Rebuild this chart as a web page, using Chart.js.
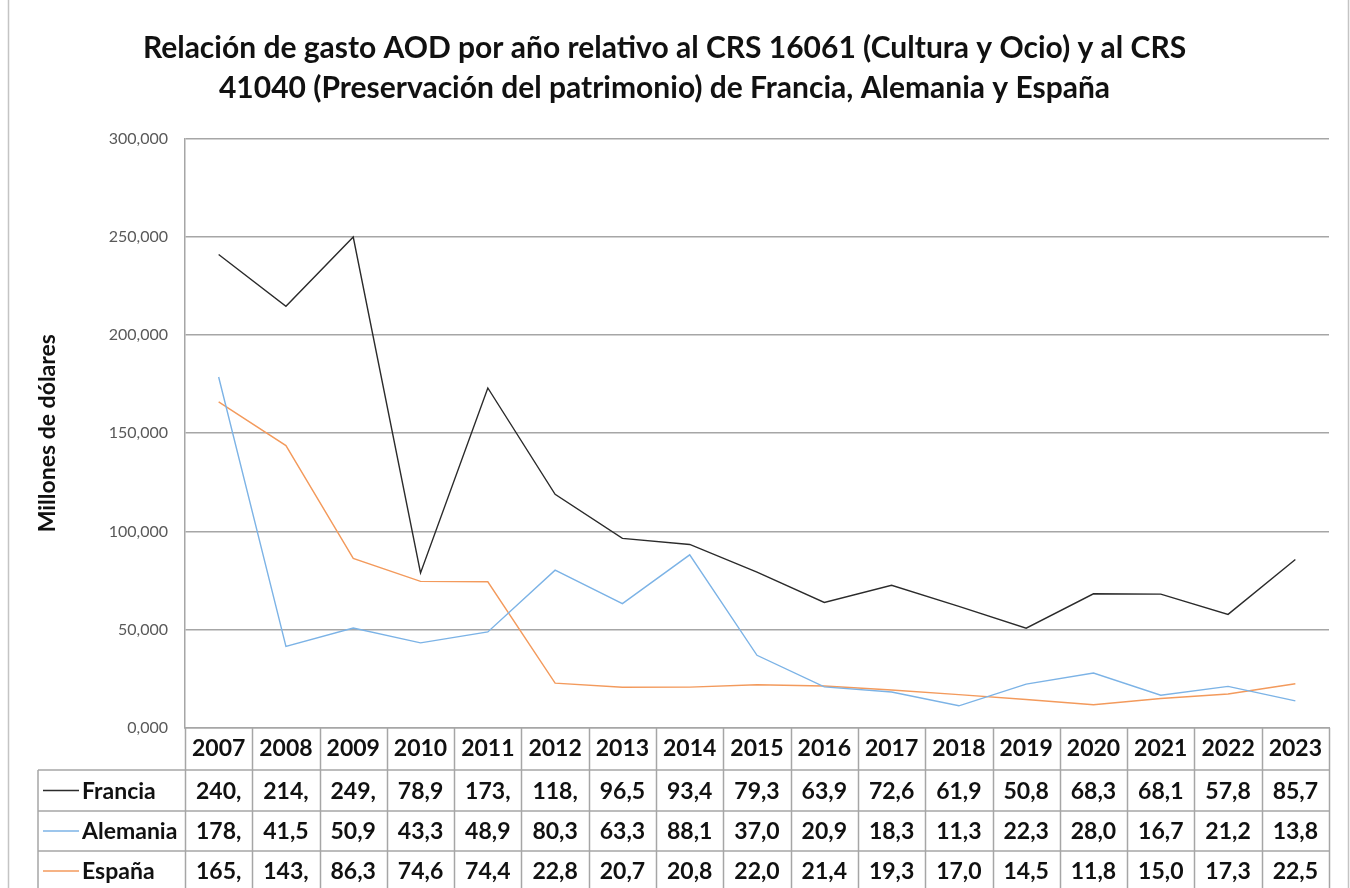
<!DOCTYPE html>
<html>
<head>
<meta charset="utf-8">
<script src="https://cdn.jsdelivr.net/npm/chart.js@4.4.1/dist/chart.umd.min.js"></script>
<style>
  html, body { margin: 0; padding: 0; background: #fff; }
  canvas { display: block; }
</style>
</head>
<body>
<canvas id="gastoChart" width="1350" height="888"></canvas>
<script>
// --- Datos (millones de dólares) ---
const years = ['2007', '2008', '2009', '2010', '2011', '2012', '2013', '2014', '2015',
               '2016', '2017', '2018', '2019', '2020', '2021', '2022', '2023'];
const francia  = [240.9, 214.6, 249.8, 78.9, 173.0, 118.9, 96.5, 93.4, 79.3, 63.9, 72.6, 61.9, 50.8, 68.3, 68.1, 57.8, 85.7];
const alemania = [178.6, 41.5, 50.9, 43.3, 48.9, 80.3, 63.3, 88.1, 37.0, 20.9, 18.3, 11.3, 22.3, 28.0, 16.7, 21.2, 13.8];
const espana   = [165.9, 143.7, 86.3, 74.6, 74.4, 22.8, 20.7, 20.8, 22.0, 21.4, 19.3, 17.0, 14.5, 11.8, 15.0, 17.3, 22.5];
const seriesNames = ['Francia', 'Alemania', 'España'];
const seriesColors = ['#2b2b2b', '#7cb3e6', '#f39a5c'];
const yMin = 0, yMax = 300, yStep = 50;

const titleLines = [
    'Relación de gasto AOD por año relativo al CRS 16061 (Cultura y Ocio) y al CRS',
    '41040 (Preservación del patrimonio) de Francia, Alemania y España'
];

const gridColor = '#a6a6a6';
const FONT = 'Lato';

// valor con coma decimal, recortado al ancho de la celda (como en Excel)
function cellText(v) {
    return v.toFixed(1).replace('.', ',').slice(0, 4);
}

// --- Plugin: marco exterior y tabla de datos bajo el eje X ---
const dataTablePlugin = {
    id: 'dataTable',
    beforeDraw(chart) {
        const ctx = chart.ctx;
        ctx.save();
        ctx.fillStyle = '#fff';
        ctx.fillRect(0, 0, chart.width, chart.height);
        ctx.strokeStyle = '#c4c4c4';
        ctx.lineWidth = 1.5;
        ctx.beginPath();
        ctx.moveTo(8.5, 0); ctx.lineTo(8.5, chart.height);
        ctx.moveTo(1348.5, 0); ctx.lineTo(1348.5, chart.height);
        ctx.stroke();
        ctx.restore();
    },
    afterDraw(chart) {
        const ctx = chart.ctx;
        const x = chart.scales.x;
        const area = chart.chartArea;
        const colW = (x.right - x.left) / years.length;
        const legendLeft = 38;
        const rowTops = [770, 811, 851, 891];

        ctx.save();
        ctx.strokeStyle = gridColor;
        ctx.lineWidth = 1.5;
        ctx.beginPath();
        // líneas horizontales
        rowTops.forEach(y => {
            ctx.moveTo(legendLeft, y); ctx.lineTo(x.right, y);
        });
        // líneas verticales de las columnas
        for (let i = 0; i <= years.length; i++) {
            const px = Math.round(x.left + i * colW) + 0.5;
            ctx.moveTo(px, area.bottom); ctx.lineTo(px, chart.height);
        }
        ctx.moveTo(legendLeft, rowTops[0]); ctx.lineTo(legendLeft, chart.height);
        ctx.stroke();

        const rows = [francia, alemania, espana];
        ctx.font = 'bold 23px ' + FONT;
        ctx.textBaseline = 'middle';
        rows.forEach((vals, r) => {
            const cy = (rowTops[r] + rowTops[r + 1]) / 2;
            // clave de leyenda
            ctx.strokeStyle = seriesColors[r];
            ctx.lineWidth = 1.5;
            ctx.beginPath();
            ctx.moveTo(43, cy); ctx.lineTo(79, cy);
            ctx.stroke();
            ctx.fillStyle = '#111';
            ctx.textAlign = 'left';
            ctx.fillText(seriesNames[r], 82, cy + 1);
            ctx.textAlign = 'center';
            vals.forEach((v, i) => {
                ctx.fillText(cellText(v), x.getPixelForValue(i), cy + 1);
            });
        });
        ctx.restore();
    }
};

const chartData = {
    labels: years,
    datasets: [francia, alemania, espana].map((vals, i) => ({
        label: seriesNames[i],
        data: vals,
        borderColor: seriesColors[i],
        backgroundColor: seriesColors[i],
        borderWidth: 1.4,
        pointRadius: 0,
        tension: 0,
        fill: false
    }))
};

const chartOptions = {
    responsive: false,
    animation: false,
    layout: { padding: { left: 0, right: 21, top: 0, bottom: 0 } },
    plugins: {
        legend: { display: false },
        tooltip: { enabled: false },
        title: {
            display: true,
            text: titleLines,
            color: '#111',
            font: { family: FONT, size: 30, weight: 'bold', lineHeight: 1.34 },
            padding: { top: 28, bottom: 30 }
        }
    },
    scales: {
        x: {
            type: 'category',
            offset: true,
            afterFit(scale) { scale.height = 160; },
            grid: { display: false, drawTicks: false },
            border: { display: true, color: gridColor, width: 1.5 },
            ticks: {
                color: '#111',
                font: { family: FONT, size: 23, weight: 'bold' },
                padding: 7,
                maxRotation: 0,
                autoSkip: false
            }
        },
        y: {
            min: yMin,
            max: yMax,
            afterFit(scale) { scale.width = 185; },
            grid: { color: gridColor, lineWidth: 1.5, drawTicks: false },
            border: { display: true, color: gridColor, width: 1.5 },
            ticks: {
                stepSize: yStep,
                color: '#595959',
                font: { family: FONT, size: 16 },
                padding: 17,
                callback: v => v.toFixed(3).replace('.', ',')
            },
            title: {
                display: true,
                text: 'Millones de dólares',
                color: '#111',
                font: { family: FONT, size: 23, weight: 'bold' },
                padding: { top: 34, bottom: 0 }
            }
        }
    }
};

new Chart(document.getElementById('gastoChart'), {
    type: 'line',
    data: chartData,
    options: chartOptions,
    plugins: [dataTablePlugin]
});
</script>
</body>
</html>
